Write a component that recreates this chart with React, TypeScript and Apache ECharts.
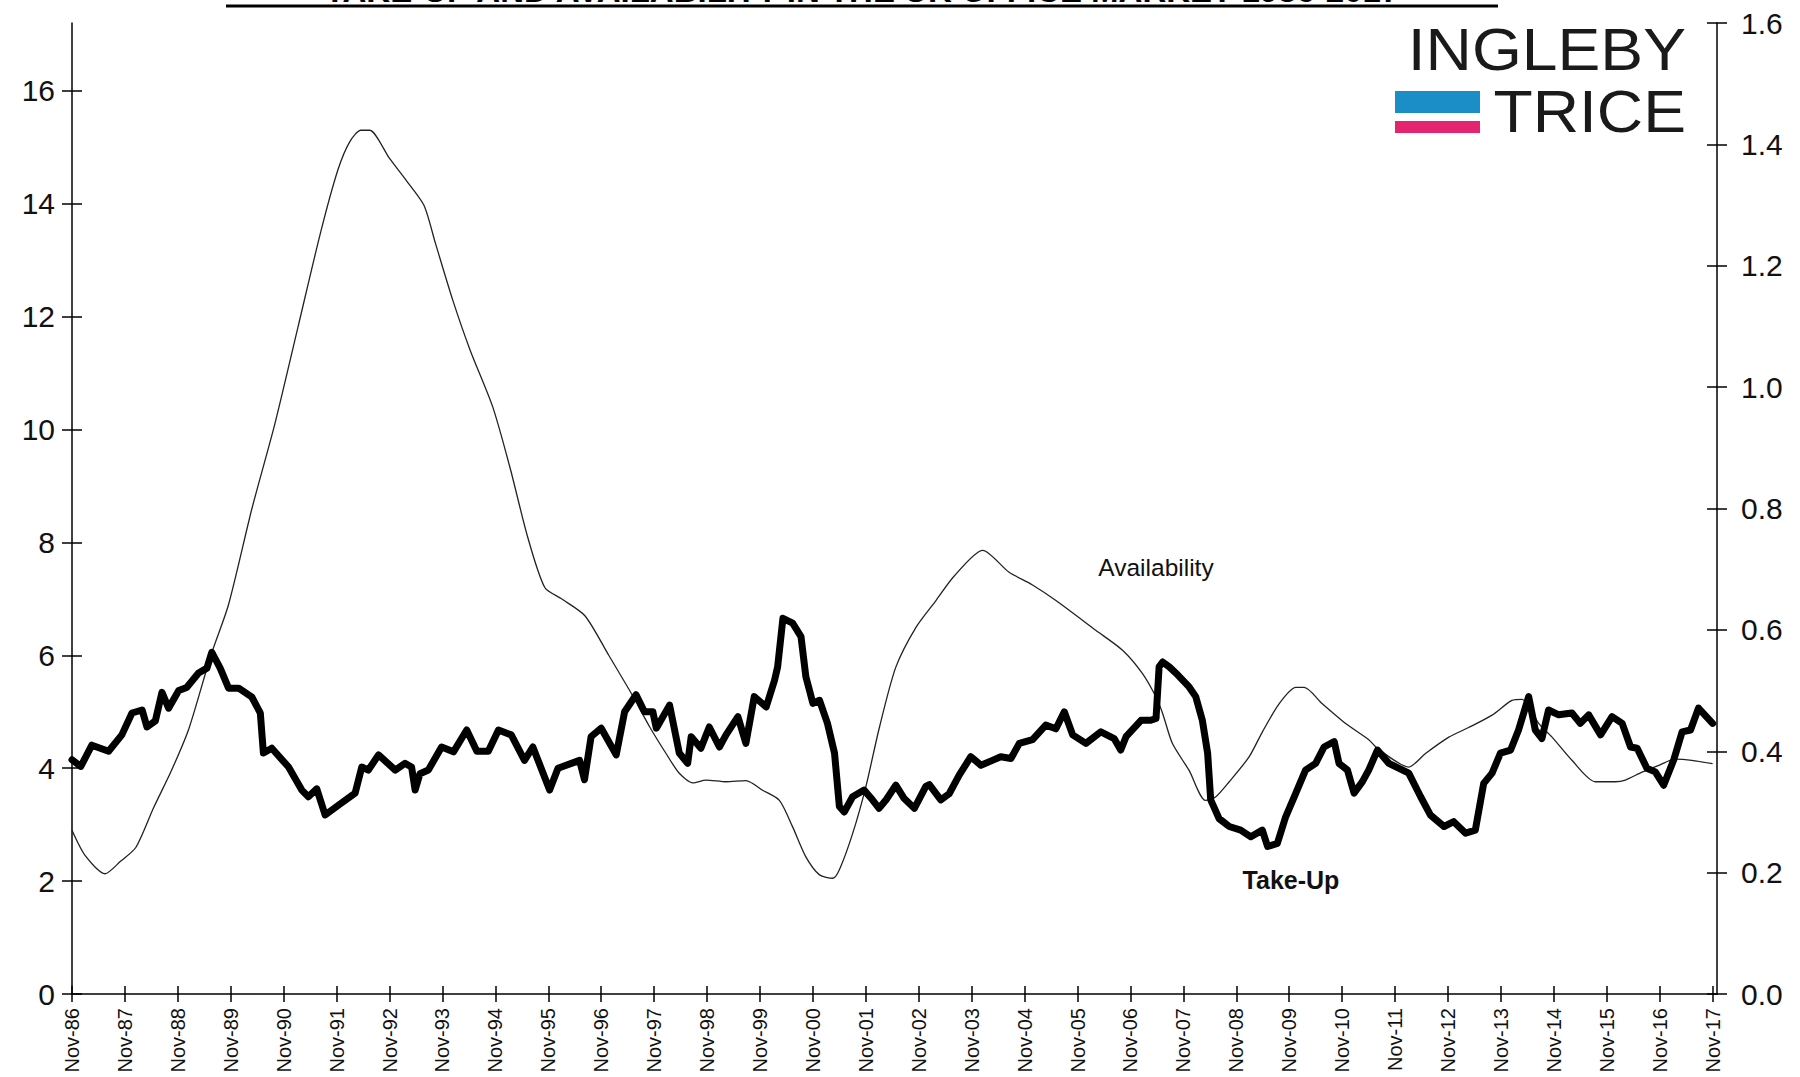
import React, { useEffect, useRef } from "react";
import * as echarts from "echarts";

const xTickLabels = [
  "Nov-86", "Nov-87", "Nov-88", "Nov-89", "Nov-90", "Nov-91", "Nov-92", "Nov-93",
  "Nov-94", "Nov-95", "Nov-96", "Nov-97", "Nov-98", "Nov-99", "Nov-00", "Nov-01",
  "Nov-02", "Nov-03", "Nov-04", "Nov-05", "Nov-06", "Nov-07", "Nov-08", "Nov-09",
  "Nov-10", "Nov-11", "Nov-12", "Nov-13", "Nov-14", "Nov-15", "Nov-16", "Nov-17",
];
const xTickValues = [
  0, 12, 24, 36, 48, 60, 72, 84, 96, 108, 120, 132, 144, 156, 168, 180,
  192, 204, 216, 228, 240, 252, 264, 276, 288, 300, 312, 324, 336, 348, 360, 372,
];
const leftTicks = [0, 2, 4, 6, 8, 10, 12, 14, 16];
const rightTicks = [0, 0.2, 0.4, 0.6, 0.8, 1.0, 1.2, 1.4, 1.6];

// [months since Nov-86, value] — Availability (left axis)
const availability = [
  [0, 2.9], [3, 2.45], [7.5, 2.13], [11, 2.35], [14.5, 2.6], [18.5, 3.3], [22.5, 3.95],
  [26.5, 4.7], [31.5, 6.0], [35.5, 6.9], [40.8, 8.6], [46, 10.1], [51.2, 11.8],
  [56.4, 13.5], [60.3, 14.6], [63, 15.1], [65.5, 15.3], [67.5, 15.3], [72, 14.8],
  [75.9, 14.4], [79.8, 13.97], [82.4, 13.3], [86.3, 12.3], [90.3, 11.4], [95.4, 10.4],
  [99.4, 9.3], [103.3, 8.1], [107.2, 7.2], [111, 7.0], [116.3, 6.7], [121.7, 6.0],
  [127, 5.3], [131, 4.73], [134.7, 4.26], [137.7, 3.91], [140.8, 3.74], [143.8, 3.79],
  [148.3, 3.76], [152.8, 3.78], [156.6, 3.61], [160.4, 3.43], [163.4, 2.96], [166.4, 2.43],
  [169.5, 2.11], [172.5, 2.05], [174, 2.2], [177, 2.84], [180, 3.67], [183.1, 4.73],
  [186.8, 5.79], [191.4, 6.5], [195.9, 6.97], [200, 7.4], [206.5, 7.86], [212.5, 7.47],
  [217.7, 7.25], [223.1, 6.97], [232.2, 6.44], [238.2, 6.09], [242.7, 5.68], [245.8, 5.26],
  [247.3, 4.97], [249.5, 4.44], [253.3, 3.96], [257, 3.43], [259.3, 3.49], [262.4, 3.76],
  [266.9, 4.2], [269.9, 4.64], [273.7, 5.14], [277.5, 5.43], [279.4, 5.43], [283.5, 5.14],
  [288.8, 4.79], [294.1, 4.5], [296, 4.35], [303.1, 4.02], [306.9, 4.26], [312.2, 4.55],
  [316.7, 4.72], [322, 4.94], [326.5, 5.2], [328.8, 5.22], [332.6, 4.79], [335.6, 4.55],
  [340.1, 4.14], [345.4, 3.76], [350, 3.76], [352.2, 3.79], [356, 3.93], [359.8, 4.05],
  [363.5, 4.16], [367.3, 4.14], [372, 4.08],
];

// [months since Nov-86, value] — Take-Up (right axis)
const takeUp = [
  [0, 0.386], [2, 0.375], [4.5, 0.41], [8.3, 0.4], [11.3, 0.427], [13.6, 0.463], [15.9, 0.468],
  [17, 0.44], [18.9, 0.45], [20.4, 0.497], [21.9, 0.471], [24.2, 0.5], [26, 0.505],
  [28.7, 0.529], [30.6, 0.537], [31.7, 0.563], [33.6, 0.537], [35.5, 0.504], [37.8, 0.504],
  [40.8, 0.489], [42.7, 0.463], [43.4, 0.397], [45.3, 0.405], [49.1, 0.374], [52.1, 0.336],
  [53.6, 0.325], [55.5, 0.338], [57.4, 0.295], [60.4, 0.311], [64.2, 0.331], [65.7, 0.374],
  [67.2, 0.369], [69.5, 0.394], [73.3, 0.369], [75.5, 0.38], [77, 0.374], [77.8, 0.336],
  [78.9, 0.363], [80.8, 0.369], [83.8, 0.407], [86.5, 0.399], [89.5, 0.435], [91.8, 0.4],
  [94.4, 0.4], [96.7, 0.435], [99.6, 0.427], [102.6, 0.385], [104.5, 0.407], [108.3, 0.336],
  [110.2, 0.372], [115.1, 0.385], [116.2, 0.353], [117.7, 0.424], [120, 0.438], [123.4, 0.394],
  [125.3, 0.465], [127.9, 0.493], [129.8, 0.465], [131.7, 0.465], [132.5, 0.438], [135.5, 0.476],
  [137.7, 0.397], [139.6, 0.38], [140.4, 0.424], [142.6, 0.405], [144.5, 0.44], [146.8, 0.407],
  [148.3, 0.427], [151, 0.457], [152.8, 0.413], [154.7, 0.49], [157.4, 0.473], [159.3, 0.517],
  [160, 0.539], [161.2, 0.619], [163.4, 0.611], [165.3, 0.589], [166.4, 0.523], [168, 0.479],
  [169.5, 0.484], [171.3, 0.446], [172.9, 0.397], [174, 0.309], [175.1, 0.3], [177, 0.325],
  [179.6, 0.336], [181.5, 0.32], [183, 0.306], [184.6, 0.32], [186.8, 0.344], [188.7, 0.322],
  [191, 0.306], [193.6, 0.342], [194.4, 0.345], [197, 0.32], [198.9, 0.33], [201.2, 0.361],
  [203.8, 0.391], [206.1, 0.377], [208.7, 0.385], [210.6, 0.391], [212.9, 0.388], [214.8, 0.413],
  [217.8, 0.419], [220.8, 0.443], [223.1, 0.437], [225, 0.465], [226.9, 0.427], [229.9, 0.413],
  [233.3, 0.432], [236.3, 0.421], [237.8, 0.402], [239, 0.424], [242.4, 0.451], [244.6, 0.451],
  [245.8, 0.454], [246.5, 0.539], [247.3, 0.547], [248.8, 0.539], [250.7, 0.526], [253.3, 0.506],
  [254.8, 0.49], [256.3, 0.451], [257.5, 0.397], [258.2, 0.32], [260.1, 0.289], [262.4, 0.276],
  [265, 0.27], [267.3, 0.259], [269.9, 0.27], [271.1, 0.243], [273.3, 0.248], [275.2, 0.292],
  [277.5, 0.331], [279.7, 0.369], [282, 0.38], [283.9, 0.407], [286.2, 0.416], [287.3, 0.38],
  [289.2, 0.369], [290.7, 0.331], [292.6, 0.35], [294.1, 0.37], [296, 0.402], [298.6, 0.38],
  [303.1, 0.364], [305.8, 0.325], [308, 0.295], [311.1, 0.276], [313.3, 0.284], [316, 0.265],
  [318.2, 0.27], [320.1, 0.347], [322, 0.364], [323.9, 0.397], [326.2, 0.402], [328, 0.435],
  [330.3, 0.49], [331.8, 0.435], [333.3, 0.421], [334.8, 0.468], [337.1, 0.46], [340.1, 0.463],
  [342, 0.446], [343.9, 0.46], [346.6, 0.427], [349.2, 0.457], [351.5, 0.446], [353.4, 0.407],
  [354.9, 0.405], [357.1, 0.372], [359, 0.366], [360.9, 0.344], [363.2, 0.386], [365.1, 0.432],
  [367, 0.435], [368.8, 0.471], [372, 0.446],
];

const titleText = "TAKE-UP AND AVAILABILITY IN THE UK OFFICE MARKET 1986-2017";
const FONT = "'Liberation Sans', Arial, sans-serif";

export default function App() {
  const ref = useRef<HTMLDivElement>(null);

  useEffect(() => {
    document.body.style.margin = "0";
    const chart = echarts.init(ref.current!, null, { renderer: "svg" });

    const axisLine = { show: true, onZero: false, lineStyle: { color: "#000", width: 1.5 } };
    const tickStyle = { color: "#000", width: 1.5 };

    const option: any = {
      animation: false,
      backgroundColor: "#fff",
      grid: { left: 72, right: 83, top: 23, bottom: 83, containLabel: false },
      xAxis: [
        {
          type: "value",
          min: 0,
          max: 373,
          position: "bottom",
          axisLine,
          axisTick: { show: true, customValues: xTickValues, length: 8, lineStyle: tickStyle },
          axisLabel: {
            customValues: xTickValues,
            rotate: 90,
            margin: 14,
            fontSize: 20,
            color: "#111",
            fontFamily: FONT,
            formatter: (v: number) => xTickLabels[Math.round(v / 12)] ?? "",
          },
          splitLine: { show: false },
        },
        {
          type: "value",
          min: 0,
          max: 373,
          position: "bottom",
          axisLine: { show: false, onZero: false },
          axisTick: { show: true, inside: true, customValues: xTickValues, length: 8, lineStyle: tickStyle },
          axisLabel: { show: false },
          splitLine: { show: false },
        },
      ],
      yAxis: [
        {
          type: "value",
          position: "left",
          min: 0,
          max: 17.2,
          axisLine,
          axisTick: { show: true, customValues: leftTicks, length: 10, lineStyle: tickStyle },
          axisLabel: { customValues: leftTicks, margin: 17, fontSize: 30, color: "#111", fontFamily: FONT },
          splitLine: { show: false },
        },
        {
          type: "value",
          position: "right",
          min: 0,
          max: 1.6,
          axisLine,
          axisTick: { show: true, customValues: rightTicks, length: 10, lineStyle: tickStyle },
          axisLabel: {
            customValues: rightTicks,
            margin: 24,
            fontSize: 30,
            color: "#111",
            fontFamily: FONT,
            formatter: (v: number) => v.toFixed(1),
          },
          splitLine: { show: false },
        },
        {
          type: "value",
          position: "left",
          min: 0,
          max: 17.2,
          axisLine: { show: false, onZero: false },
          axisTick: { show: true, inside: true, customValues: leftTicks, length: 10, lineStyle: tickStyle },
          axisLabel: { show: false },
          splitLine: { show: false },
        },
        {
          type: "value",
          position: "right",
          min: 0,
          max: 1.6,
          axisLine: { show: false, onZero: false },
          axisTick: { show: true, inside: true, customValues: rightTicks, length: 10, lineStyle: tickStyle },
          axisLabel: { show: false },
          splitLine: { show: false },
        },
      ],
      series: [
        {
          name: "Availability",
          type: "line",
          xAxisIndex: 0,
          yAxisIndex: 0,
          data: availability,
          symbol: "none",
          smooth: 0.25,
          lineStyle: { color: "#222", width: 1.3 },
          z: 2,
        },
        {
          name: "Take-Up",
          type: "line",
          xAxisIndex: 0,
          yAxisIndex: 1,
          data: takeUp,
          symbol: "none",
          lineStyle: { color: "#000", width: 7, join: "round", cap: "round" },
          z: 3,
        },
      ],
      graphic: {
        elements: [
          {
            type: "text",
            x: 862,
            y: 7,
            style: {
              text: titleText,
              fill: "#000",
              font: `bold 33px ${FONT}`,
              align: "center",
              verticalAlign: "bottom",
            },
          },
          {
            type: "line",
            shape: { x1: 226, y1: 6, x2: 1498, y2: 6 },
            style: { stroke: "#000", lineWidth: 3 },
          },
          {
            type: "text",
            x: 1156,
            y: 567,
            style: {
              text: "Availability",
              fill: "#111",
              font: `24.5px ${FONT}`,
              align: "center",
              verticalAlign: "middle",
            },
          },
          {
            type: "text",
            x: 1291,
            y: 880,
            style: {
              text: "Take-Up",
              fill: "#111",
              font: `bold 25px ${FONT}`,
              align: "center",
              verticalAlign: "middle",
            },
          },
          {
            type: "text",
            x: 1686,
            y: 49,
            scaleX: 1.07,
            style: {
              text: "INGLEBY",
              fill: "#1a1a1a",
              font: `60px ${FONT}`,
              align: "right",
              verticalAlign: "middle",
            },
          },
          {
            type: "text",
            x: 1686,
            y: 111,
            scaleX: 1.07,
            style: {
              text: "TRICE",
              fill: "#1a1a1a",
              font: `60px ${FONT}`,
              align: "right",
              verticalAlign: "middle",
            },
          },
          {
            type: "rect",
            shape: { x: 1395, y: 91, width: 85, height: 22 },
            style: { fill: "#1b8dc7" },
          },
          {
            type: "rect",
            shape: { x: 1395, y: 121, width: 85, height: 12 },
            style: { fill: "#e5246f" },
          },
        ],
      },
    };

    chart.setOption(option);
    return () => chart.dispose();
  }, []);

  return <div ref={ref} style={{ width: 1800, height: 1077 }} />;
}
